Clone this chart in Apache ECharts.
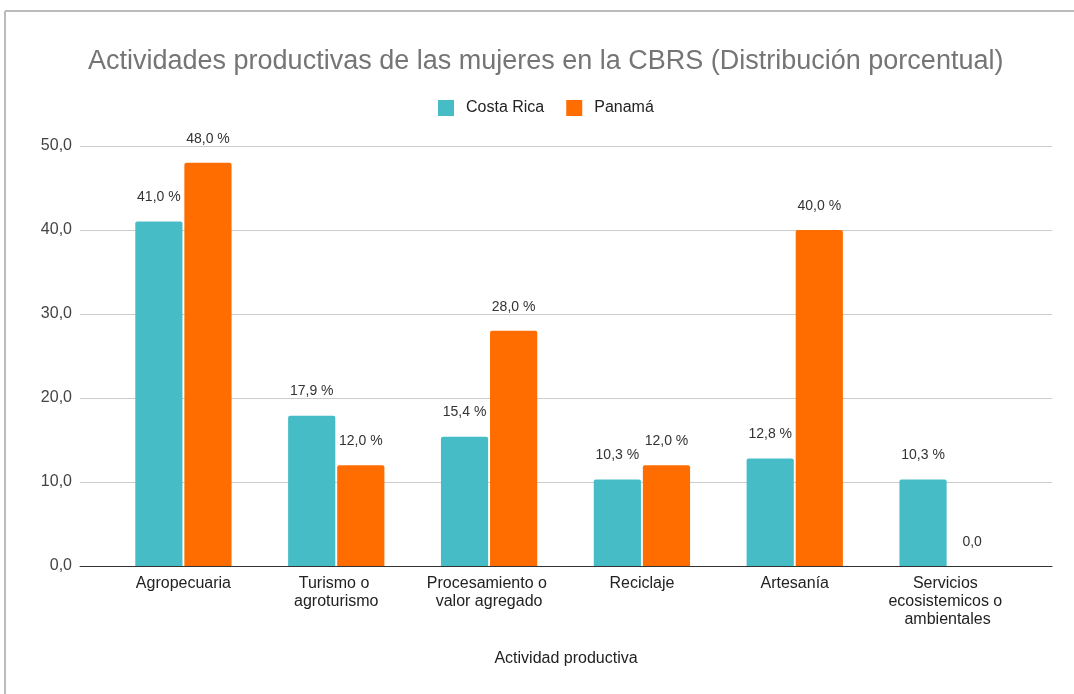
<!DOCTYPE html>
<html>
<head>
<meta charset="utf-8">
<script src="https://cdn.jsdelivr.net/npm/echarts@6/dist/echarts.min.js"></script>
<style>
  html, body { margin: 0; padding: 0; background: #fff; }
  #chart { width: 1074px; height: 694px; }
</style>
</head>
<body>
<div id="chart"></div>
<script>
// datos
var categorias = ['Agropecuaria', 'Turismo o agroturismo', 'Procesamiento o valor agregado',
    'Reciclaje', 'Artesanía', 'Servicios ecosistemicos o ambientales'];
var costaRica = [41.0, 17.9, 15.4, 10.3, 12.8, 10.3];
var panama = [48.0, 12.0, 28.0, 12.0, 40.0, 0.0];
var yTicks = { min: 0, max: 50, interval: 10 };

var fuente = 'Arial, "Liberation Sans", sans-serif';

function coma(v) {
    return v.toFixed(1).replace('.', ',');
}

function etiqueta(p) {
    if (p.value === 0) return '0,0';
    return coma(p.value) + ' %';
}

var labelBarra = {
    show: true,
    position: 'top',
    distance: 17,
    formatter: etiqueta,
    fontFamily: fuente,
    fontSize: 14,
    color: '#333',
    textBorderColor: '#fff',
    textBorderWidth: 2
};

const chartDom = document.getElementById('chart');
const myChart = echarts.init(chartDom);
let option;

option = {
    backgroundColor: '#fff',
    animation: false,
    title: {
        text: 'Actividades productivas de las mujeres en la CBRS (Distribución porcentual)',
        left: 83,
        top: 43,
        textStyle: { fontFamily: fuente, fontSize: 27, fontWeight: 'normal', color: '#757575' }
    },
    legend: {
        top: 95,
        left: 433,
        itemWidth: 16,
        itemHeight: 16,
        itemGap: 22,
        icon: 'rect',
        textStyle: { fontFamily: fuente, fontSize: 16, color: '#222', padding: [0, 0, 0, 7] },
        data: ['Costa Rica', 'Panamá']
    },
    graphic: [
        { type: 'line', shape: { x1: 5, y1: 11, x2: 1074, y2: 11 }, style: { stroke: '#bbb', lineWidth: 2 } },
        { type: 'line', shape: { x1: 5, y1: 11, x2: 5, y2: 694 }, style: { stroke: '#bbb', lineWidth: 2 } }
    ],
    grid: [
        { left: 80, right: 22, top: 146, bottom: 128 },
        { left: 107, right: 50, top: 146, bottom: 128 }
    ],
    xAxis: [
        {
            gridIndex: 0,
            type: 'category',
            data: [''],
            axisLine: { lineStyle: { color: '#333', width: 1 } },
            axisTick: { show: false },
            axisLabel: { show: false },
            name: 'Actividad productiva',
            nameLocation: 'middle',
            nameGap: 85,
            nameTextStyle: { fontFamily: fuente, fontSize: 16, color: '#222' },
            z: 5
        },
        {
            gridIndex: 1,
            type: 'category',
            data: categorias,
            axisLine: { show: false },
            axisTick: { show: false },
            axisLabel: {
                margin: 9,
                interval: 0,
                width: 140,
                overflow: 'break',
                lineHeight: 18,
                fontFamily: fuente,
                fontSize: 16,
                color: '#222'
            }
        }
    ],
    yAxis: [
        {
            gridIndex: 0,
            type: 'value',
            min: yTicks.min,
            max: yTicks.max,
            interval: yTicks.interval,
            axisLine: { show: false },
            axisTick: { show: false },
            splitLine: { lineStyle: { color: '#ccc' } },
            axisLabel: {
                margin: 8,
                fontFamily: fuente,
                fontSize: 16,
                color: '#444',
                formatter: function (v) { return coma(v); }
            }
        },
        {
            gridIndex: 1,
            type: 'value',
            min: yTicks.min,
            max: yTicks.max,
            interval: yTicks.interval,
            show: false
        }
    ],
    series: [
        {
            name: 'Costa Rica',
            type: 'bar',
            xAxisIndex: 1,
            yAxisIndex: 1,
            data: costaRica,
            barGap: '4%',
            barCategoryGap: '37%',
            itemStyle: { color: '#46BDC6', borderRadius: [2, 2, 0, 0] },
            label: labelBarra,
            z: 3
        },
        {
            name: 'Panamá',
            type: 'bar',
            xAxisIndex: 1,
            yAxisIndex: 1,
            data: panama,
            barGap: '4%',
            barCategoryGap: '37%',
            itemStyle: { color: '#FF6D01', borderRadius: [2, 2, 0, 0] },
            label: labelBarra,
            z: 2
        }
    ]
};

option && myChart.setOption(option);
</script>
</body>
</html>
